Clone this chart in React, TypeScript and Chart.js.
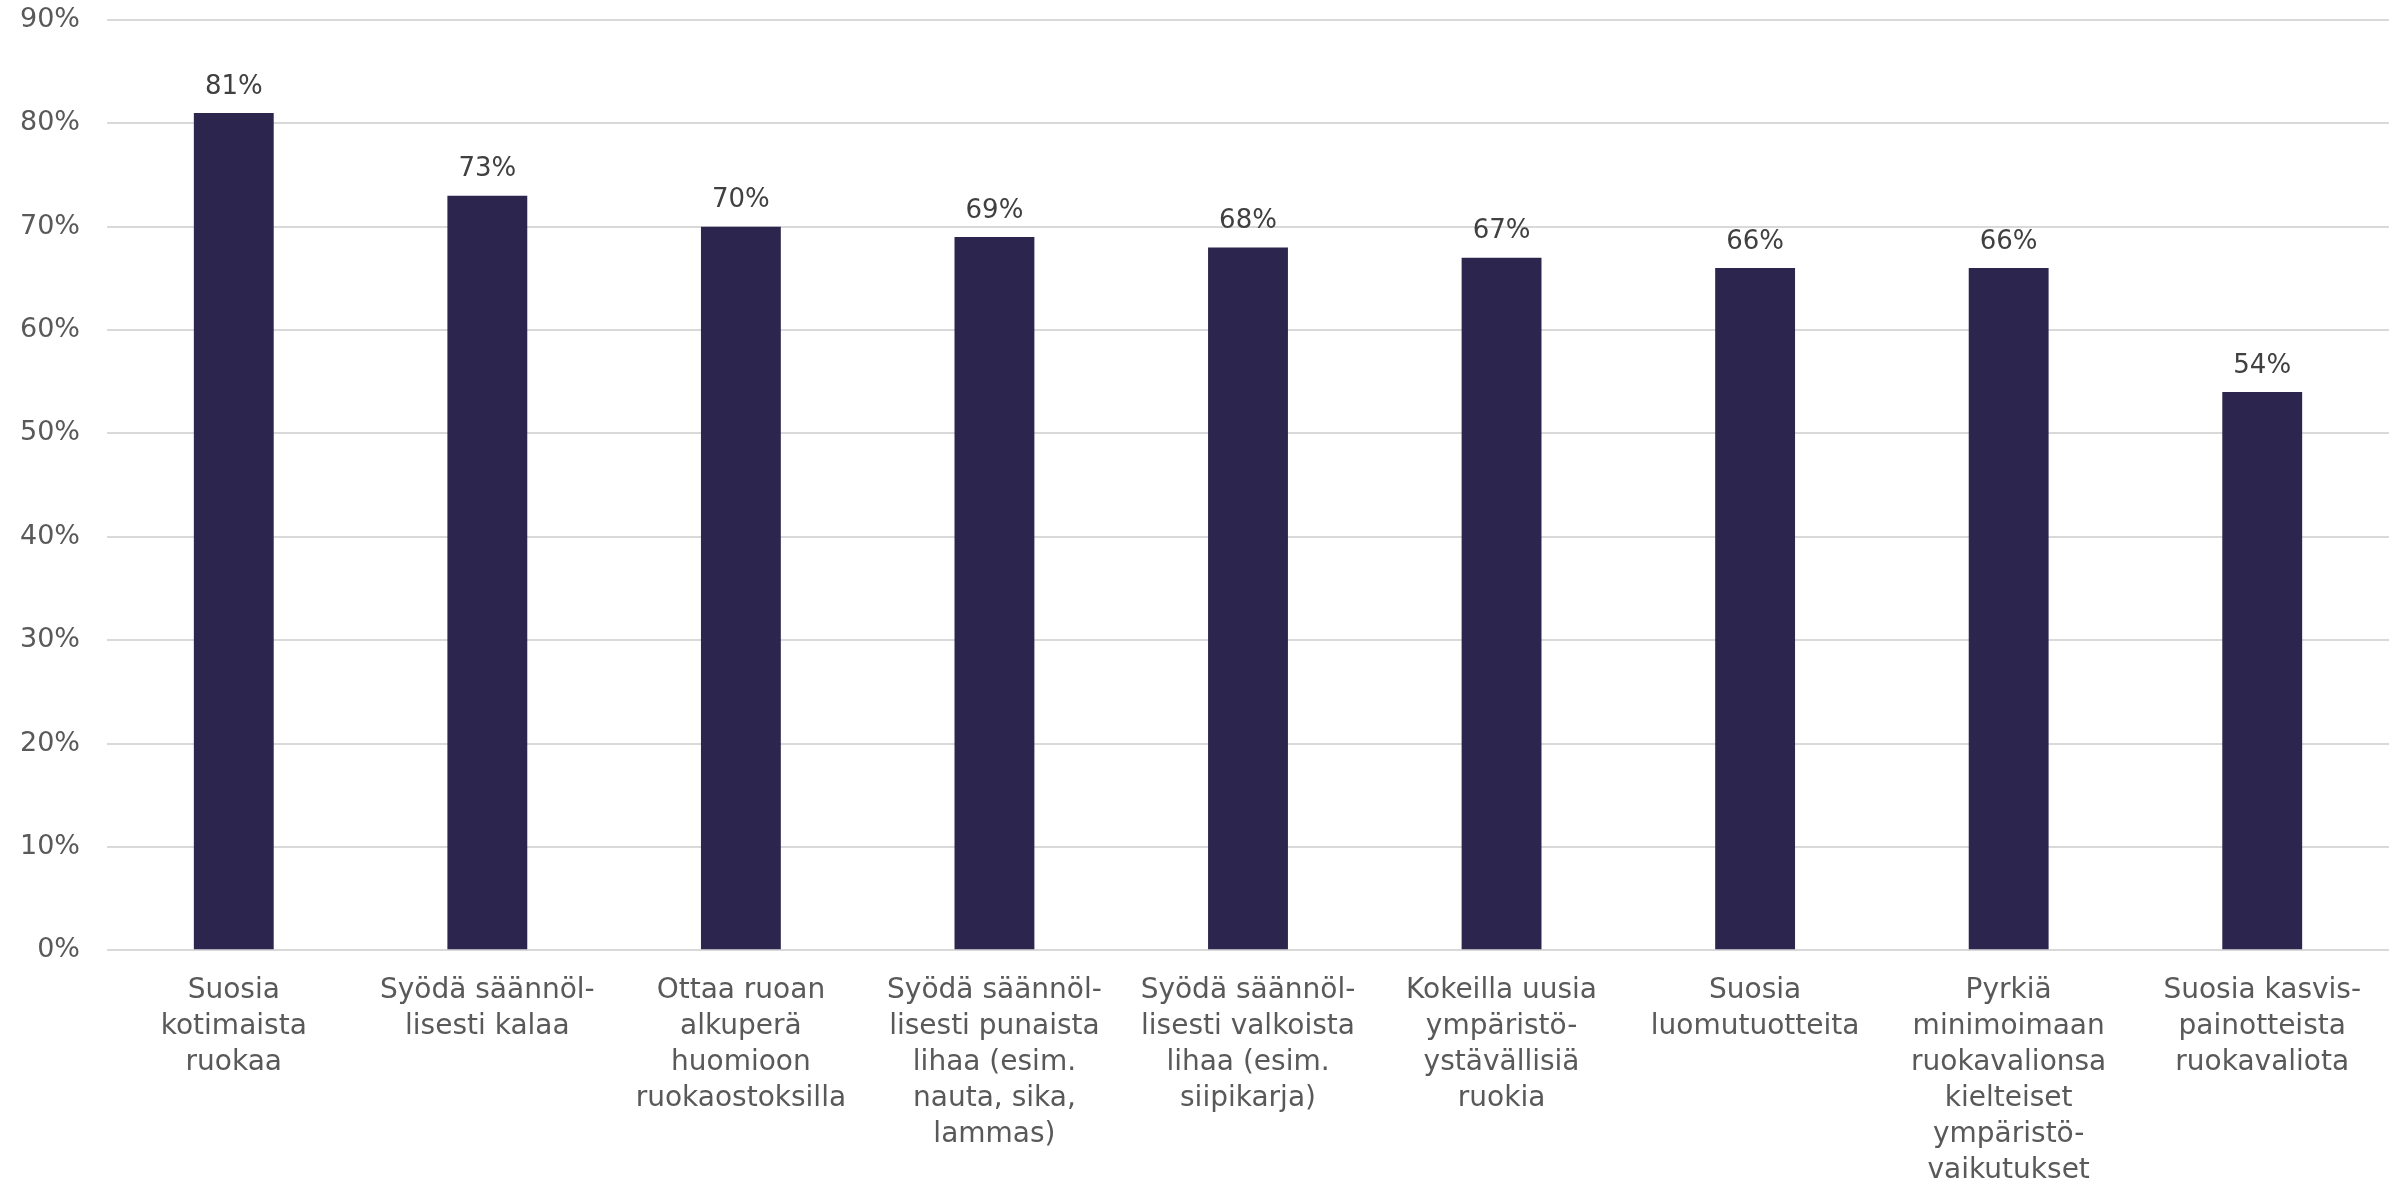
import React, { useEffect, useRef } from "react";
import { Chart, registerables } from "chart.js";

Chart.register(...registerables);

const categories: string[][] = [
  ["Suosia", "kotimaista", "ruokaa"],
  ["Syödä säännöl-", "lisesti kalaa"],
  ["Ottaa ruoan", "alkuperä", "huomioon", "ruokaostoksilla"],
  ["Syödä säännöl-", "lisesti punaista", "lihaa (esim.", "nauta, sika,", "lammas)"],
  ["Syödä säännöl-", "lisesti valkoista", "lihaa (esim.", "siipikarja)"],
  ["Kokeilla uusia", "ympäristö-", "ystävällisiä", "ruokia"],
  ["Suosia", "luomutuotteita"],
  ["Pyrkiä", "minimoimaan", "ruokavalionsa", "kielteiset", "ympäristö-", "vaikutukset"],
  ["Suosia kasvis-", "painotteista", "ruokavaliota"],
];
const values: number[] = [81, 73, 70, 69, 68, 67, 66, 66, 54];
const yMax = 90;
const yStep = 10;

const FONT = "'DejaVu Sans', 'Open Sans', sans-serif";
const TEXT = "#595959";

const valueLabels = {
  id: "valueLabels",
  afterDatasetsDraw(chart: any) {
    const ctx = chart.ctx;
    const meta = chart.getDatasetMeta(0);
    ctx.save();
    ctx.fillStyle = "#404040";
    ctx.font = `26px ${FONT}`;
    ctx.textAlign = "center";
    ctx.textBaseline = "middle";
    meta.data.forEach((el: any, i: number) => {
      ctx.fillText(values[i] + "%", el.x, el.y - 26);
    });
    ctx.restore();
  },
};

export default function App() {
  const ref = useRef<HTMLCanvasElement | null>(null);
  useEffect(() => {
    document.body.style.margin = "0";
    const chart = new Chart(ref.current as HTMLCanvasElement, {
      type: "bar",
      data: {
        labels: categories as any,
        datasets: [
          {
            data: values,
            backgroundColor: "#2c254d",
            barPercentage: 0.63,
            categoryPercentage: 0.5,
          },
        ],
      },
      options: {
        animation: false,
        responsive: false,
        devicePixelRatio: 1,
        layout: { padding: { top: 0, right: 15, left: 0, bottom: -25 } },
        plugins: { legend: { display: false }, tooltip: { enabled: false } },
        scales: {
          x: {
            grid: { display: false },
            border: { display: false },
            ticks: {
              color: TEXT,
              font: { family: FONT, size: 28, lineHeight: 1.29 },
              maxRotation: 0,
              autoSkip: false,
              padding: 14,
            },
          },
          y: {
            min: 0,
            max: yMax,
            afterFit: (s: any) => {
              s.width = 107;
              s.paddingTop = 20;
            },
            ticks: {
              stepSize: yStep,
              color: TEXT,
              font: { family: FONT, size: 27 },
              padding: 27,
              callback: (v: any) => v + "%",
            },
            grid: { color: "#d9d9d9", lineWidth: 2, drawTicks: false },
            border: { display: false },
          },
        },
      },
      plugins: [valueLabels],
    });
    return () => chart.destroy();
  }, []);
  return (
    <div style={{ width: 2404, height: 1178, background: "#fff" }}>
      <canvas ref={ref} width={2404} height={1178} />
    </div>
  );
}
